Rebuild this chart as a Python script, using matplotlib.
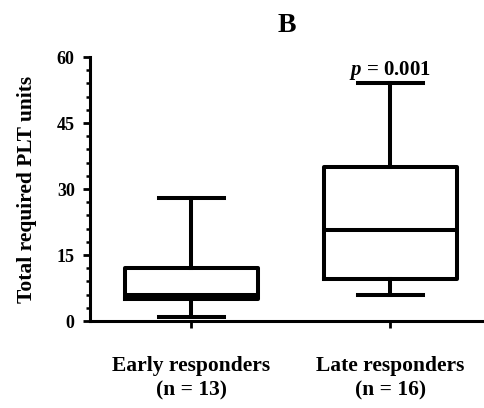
import matplotlib
matplotlib.use("Agg")
import matplotlib.pyplot as plt
from matplotlib.ticker import MultipleLocator

groups = ["Early responders\n(n = 13)", "Late responders\n(n = 16)"]
whislo = [1, 6]
q1 = [5, 9.5]
med = [6, 20.7]
q3 = [12, 35]
whishi = [28, 54]
p_text = "$\\mathbfit{p}$ = 0.001"

plt.rcParams["font.family"] = ["Liberation Serif", "DejaVu Serif"]
plt.rcParams["font.weight"] = "bold"
plt.rcParams["mathtext.fontset"] = "custom"
plt.rcParams["mathtext.bfit"] = "Liberation Serif:bold:italic"
plt.rcParams["mathtext.it"] = "Liberation Serif:italic"

fig = plt.figure(figsize=(4.84, 4.08), dpi=100)
ax = fig.add_axes([90 / 484, 87 / 408, 394 / 484, 264 / 408])

stats = [
    {"whislo": whislo[i], "q1": q1[i], "med": med[i], "q3": q3[i],
     "whishi": whishi[i], "fliers": [], "label": groups[i]}
    for i in range(len(groups))
]
lw = 2.9
ax.bxp(stats, positions=[1, 2], widths=0.67, showfliers=False,
       boxprops=dict(color="black", linewidth=lw),
       medianprops=dict(color="black", linewidth=lw, solid_capstyle="butt"),
       whiskerprops=dict(color="black", linewidth=lw),
       capprops=dict(color="black", linewidth=lw),
       capwidths=0.33)

ax.set_xlim(0.49, 2.47)
ax.set_ylim(0, 60)
ax.yaxis.set_major_locator(MultipleLocator(15))
ax.yaxis.set_minor_locator(MultipleLocator(3))

for s in ("top", "right"):
    ax.spines[s].set_visible(False)
for s in ("left", "bottom"):
    ax.spines[s].set_linewidth(2.2)

ax.tick_params(axis="y", which="major", direction="out", length=5, width=2,
               labelsize=13, pad=6)
ax.tick_params(axis="y", which="minor", direction="out", length=3, width=1.8)
ax.tick_params(axis="x", direction="out", length=5, width=2, labelsize=15.5, pad=20)
for lab in ax.get_xticklabels():
    lab.set_fontweight("bold")
    lab.set_linespacing(1.35)
for lab in ax.get_yticklabels():
    lab.set_fontweight("bold")

ax.set_ylabel("Total required PLT units", fontsize=15.5, fontweight="bold", labelpad=14)
ax.text(2, 56, p_text, ha="center", va="baseline", fontsize=15, fontweight="bold")
fig.text(287 / 484, 1 - 26 / 408, "B", ha="center", va="center", fontsize=20,
         fontweight="bold")

fig.savefig("out.png", dpi=100)
